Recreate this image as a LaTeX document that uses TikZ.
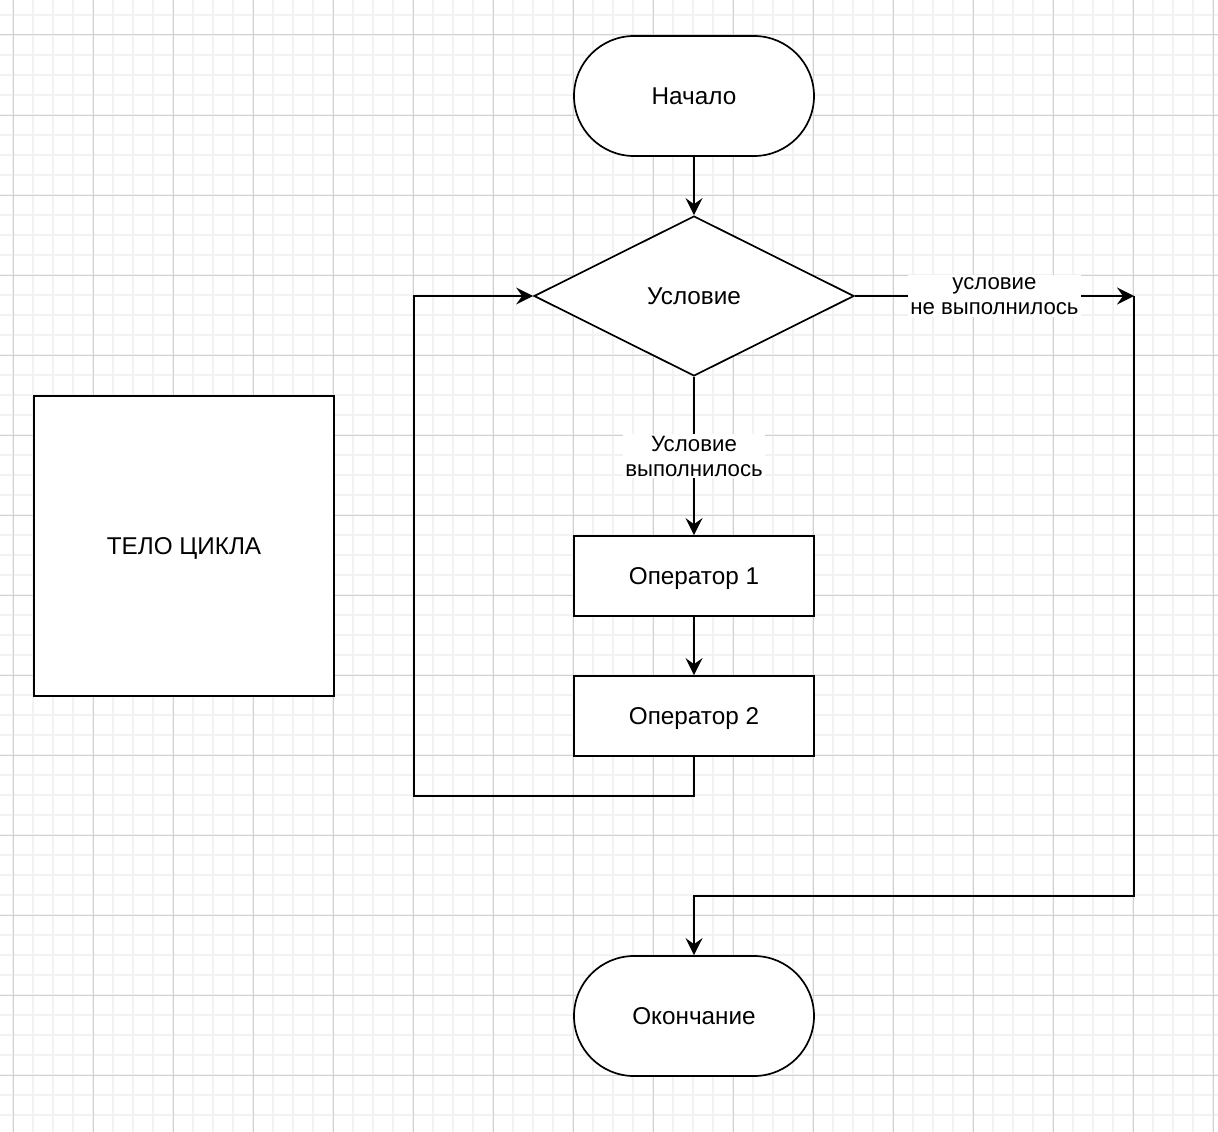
\documentclass[tikz,border=0pt]{standalone}
\usepackage{fontspec}
\setmainfont{Liberation Sans}
\usetikzlibrary{shapes.geometric,shapes.misc,arrows.meta}
\definecolor{minorgrid}{HTML}{F2F2F2}
\definecolor{majorgrid}{HTML}{D0D0D0}
\begin{document}
\begin{tikzpicture}[x=1pt,y=-1pt,
  every node/.style={font=\fontsize{24.3}{29}\selectfont},
  shapetext/.style={text height=20pt,text depth=2.6pt},
  terminal/.style={draw,line width=1.7pt,rounded rectangle,minimum width=240pt,minimum height=120pt,inner sep=0pt,shapetext},
  procbox/.style={draw,line width=1.7pt,rectangle,minimum width=240pt,minimum height=80pt,inner sep=0pt,shapetext},
  decision/.style={draw,line width=1.7pt,diamond,minimum width=320pt,minimum height=160pt,inner sep=0pt,aspect=2,shapetext},
  conn/.style={line width=2pt,-{Stealth[length=17pt,width=17pt,inset=6pt]}},
  edgelabel/.style={fill=white,inner sep=2pt,align=center,font=\fontsize{22.2}{25}\selectfont}]
\useasboundingbox (0,0) rectangle (1218,1132);
\fill[white] (0,0) rectangle (1218,1132);
% grid
\foreach \i in {0,...,60} {
  \draw[minorgrid,line width=1.6pt] ({13+20*\i},0) -- ({13+20*\i},1132);
}
\foreach \i in {0,...,56} {
  \draw[minorgrid,line width=1.6pt] (0,{15+20*\i}) -- (1218,{15+20*\i});
}
\foreach \i in {0,...,15} {
  \draw[majorgrid,line width=1pt] ({13+80*\i},0) -- ({13+80*\i},1132);
}
\foreach \i in {0,...,14} {
  \draw[majorgrid,line width=1pt] (0,{35+80*\i}) -- (1218,{35+80*\i});
}
% nodes
\node[terminal,fill=white] (start) at (694,96) {Начало};
\node[decision,fill=white] (cond) at (694,296) {Условие};
\node[procbox,fill=white] (op1) at (694,576) {Оператор 1};
\node[procbox,fill=white] (op2) at (694,716) {Оператор 2};
\node[terminal,fill=white] (finish) at (694,1016) {Окончание};
\node[procbox,fill=white,minimum width=300pt,minimum height=300pt] (body) at (184,546) {ТЕЛО ЦИКЛА};
\coordinate (loopA) at (694,796);
\coordinate (loopB) at (414,796);
\coordinate (loopC) at (414,296);
\coordinate (exitA) at (1134,296);
\coordinate (exitB) at (1134,896);
\coordinate (exitC) at (694,896);
% connectors
\draw[conn] (start.south) -- (cond.north);
\draw[conn] (cond.south) -- node[edgelabel] {Условие\\выполнилось} (op1.north);
\draw[conn] (op1.south) -- (op2.north);
\draw[conn] (op2.south) -- (loopA) -- (loopB) -- (loopC) -- (cond.west);
\draw[conn] (cond.east) -- node[edgelabel] {условие\\не выполнилось} (exitA);
\draw[conn] (exitA) -- (exitB) -- (exitC) -- (finish.north);
\end{tikzpicture}
\end{document}
